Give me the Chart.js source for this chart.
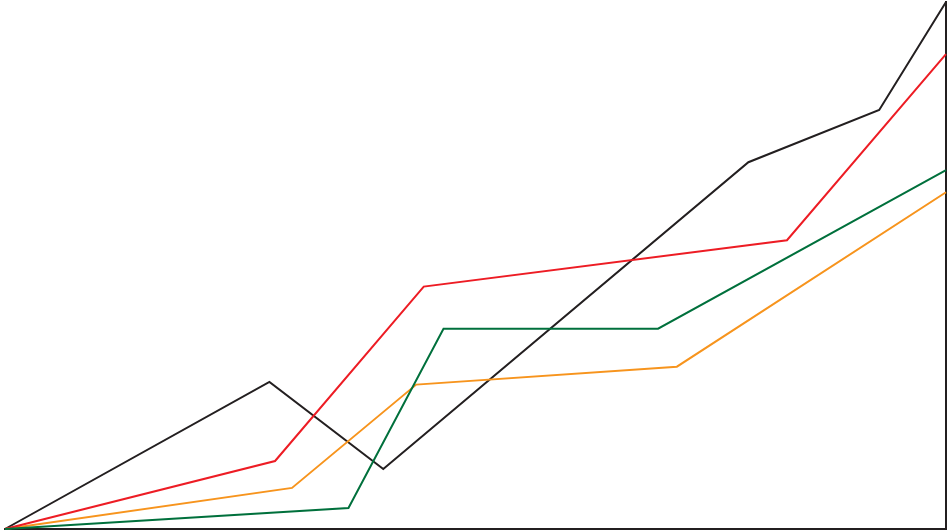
<!DOCTYPE html>
<html>
<head>
<meta charset="utf-8">
<script src="https://cdn.jsdelivr.net/npm/chart.js@4"></script>
<style>
html,body{margin:0;padding:0;background:#fff;}
#wrap{width:947px;height:530px;}
</style>
</head>
<body>
<div id="wrap"><canvas id="c" width="947" height="530"></canvas></div>
<script>
// Values in chart units (x: 0-100 horizontal position, y: 0-100 level)
const blackX = [0, 28.1, 40.2, 79.0, 92.9, 100];
const blackY = [0, 27.9, 11.4, 69.6, 79.5, 100];
const redX = [0, 28.7, 44.5, 83.1, 100];
const redY = [0, 12.9, 46.0, 54.8, 90.1];
const orangeX = [0, 30.5, 43.7, 71.4, 100];
const orangeY = [0, 7.8, 27.4, 30.8, 63.9];
const greenX = [0, 36.5, 46.6, 69.4, 100];
const greenY = [0, 4.0, 38.0, 38.0, 68.1];

const pts = (xs, ys) => xs.map((x, i) => ({x: x, y: ys[i]}));
const ds = (xs, ys, color, order) => ({
  data: pts(xs, ys), borderColor: color, borderWidth: 2, pointRadius: 0,
  fill: false, tension: 0, clip: false, order: order
});

new Chart(document.getElementById('c'), {
  type: 'line',
  data: {
    datasets: [
      ds(greenX, greenY, '#00703c', 1),
      ds(redX, redY, '#ed1c24', 2),
      ds(orangeX, orangeY, '#f7941d', 3),
      ds(blackX, blackY, '#231f20', 4)
    ]
  },
  options: {
    responsive: false,
    animation: false,
    devicePixelRatio: 1,
    layout: {padding: {left: 5, top: 2, right: 1, bottom: 1}},
    plugins: {legend: {display: false}, tooltip: {enabled: false}},
    scales: {
      x: {
        type: 'linear', min: 0, max: 100,
        grid: {display: false, drawTicks: false},
        ticks: {display: false},
        border: {display: true, color: '#231f20', width: 2}
      },
      y: {
        position: 'right', min: 0, max: 100,
        grid: {display: false, drawTicks: false},
        ticks: {display: false},
        border: {display: true, color: '#231f20', width: 2}
      }
    }
  }
});
</script>
</body>
</html>
